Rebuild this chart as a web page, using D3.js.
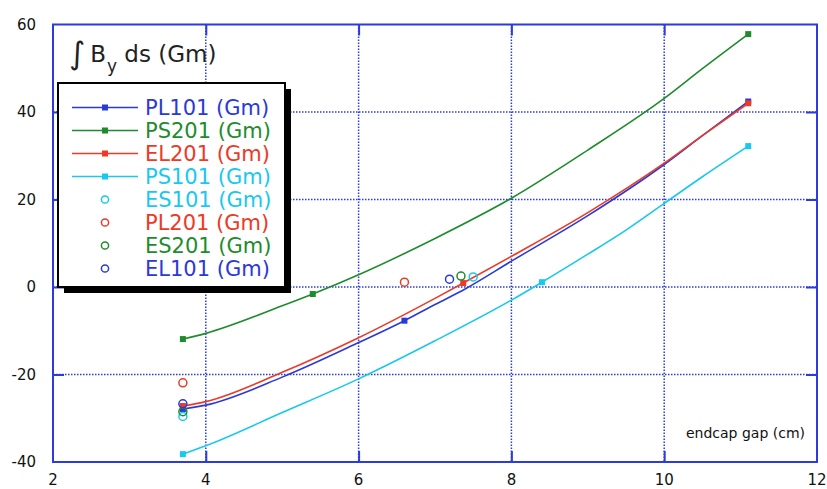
<!DOCTYPE html>
<html>
<head>
<meta charset="utf-8">
<script src="https://cdn.jsdelivr.net/npm/d3@7"></script>
<style>
  html, body { margin: 0; padding: 0; background: #fff; }
  svg { display: block; }
  text { font-family: "DejaVu Sans", Verdana, sans-serif; }
</style>
</head>
<body>
<svg id="chart" width="827" height="489"></svg>
<script>
// ---------- data ----------
const xTicks = [2, 4, 6, 8, 10, 12];
const yTicks = [-40, -20, 0, 20, 40, 60];
const xGrid = [4, 6, 8, 10];
const yGrid = [-20, 0, 20, 40];

const seriesNames = ["PL101 (Gm)", "PS201 (Gm)", "EL201 (Gm)", "PS101 (Gm)"];
const seriesColors = ["#2a3ad8", "#1e8c2c", "#ec3a26", "#18c8f0"];

// curve samples (x = endcap gap cm, y = integral By ds, Gm)
const pl101X = [3.7, 4, 5, 6, 6.6, 7, 7.4, 8, 9, 10, 10.5, 11.1];
const pl101Y = [-27.9, -27.0, -20.6, -12.7, -7.7, -4.0, -0.4, 5.9, 16.3, 28.0, 34.6, 42.4];
const pl101MarkX = [3.7, 6.6, 11.1];

const ps201X = [3.7, 4, 5, 5.4, 6, 7, 8, 9, 10, 10.5, 11.1];
const ps201Y = [-11.9, -10.6, -4.3, -1.6, 2.8, 11.1, 20.3, 31.3, 43.1, 49.9, 57.8];
const ps201MarkX = [3.7, 5.4, 11.1];

const el201X = [3.7, 4, 5, 6, 7, 7.37, 8, 9, 10, 10.5, 11.1];
const el201Y = [-27.2, -26.2, -19.5, -11.6, -2.6, 0.9, 7.0, 17.0, 28.3, 34.6, 42.0];
const el201MarkX = [3.7, 7.37, 11.1];

const ps101X = [3.7, 4, 5, 6, 7, 8, 8.4, 9, 9.5, 10, 10.5, 11.1];
const ps101Y = [-38.2, -36.3, -28.7, -21.0, -12.3, -3.0, 1.1, 7.5, 13.0, 19.1, 25.2, 32.2];
const ps101MarkX = [3.7, 8.4, 11.1];

// open-circle point series
const pointNames = ["ES101 (Gm)", "PL201 (Gm)", "ES201 (Gm)", "EL101 (Gm)"];
const pointColors = ["#18c8f0", "#ec3a26", "#1e8c2c", "#2a3ad8"];
const es101X = [3.7, 7.5];   const es101Y = [-29.6, 2.3];
const pl201X = [3.7, 6.6];   const pl201Y = [-21.9, 1.1];
const es201X = [3.7, 7.34];  const es201Y = [-28.5, 2.5];
const el101X = [3.7, 7.19];  const el101Y = [-26.7, 1.8];

// ---------- build ----------
const lineSeries = [
  {x: pl101X, y: pl101Y, m: pl101MarkX},
  {x: ps201X, y: ps201Y, m: ps201MarkX},
  {x: el201X, y: el201Y, m: el201MarkX},
  {x: ps101X, y: ps101Y, m: ps101MarkX}
].map((s, i) => ({
  name: seriesNames[i], color: seriesColors[i],
  pts: s.x.map((v, j) => ({x: v, y: s.y[j]})),
  marks: s.m.map(mx => ({x: mx, y: s.y[s.x.indexOf(mx)]}))
}));
const pointSeries = [
  {x: es101X, y: es101Y}, {x: pl201X, y: pl201Y},
  {x: es201X, y: es201Y}, {x: el101X, y: el101Y}
].map((s, i) => ({
  name: pointNames[i], color: pointColors[i],
  pts: s.x.map((v, j) => ({x: v, y: s.y[j]}))
}));

const frameColor = "#2b3be0";
const pL = 53, pR = 817, pT = 24.5, pB = 462;
const x = d3.scaleLinear().domain([2, 12]).range([pL, pR]);
const y = d3.scaleLinear().domain([-40, 60]).range([pB, pT]);

const svg = d3.select("#chart");

// grid (dotted)
const grid = svg.append("g");
grid.selectAll("line.vx").data(xGrid).join("line")
  .attr("x1", d => x(d)).attr("x2", d => x(d))
  .attr("y1", pT).attr("y2", pB)
  .attr("stroke", frameColor).attr("stroke-width", 1.5)
  .attr("stroke-dasharray", "1.5,1.5");
grid.selectAll("line.hy").data(yGrid).join("line")
  .attr("x1", pL).attr("x2", pR)
  .attr("y1", d => y(d)).attr("y2", d => y(d))
  .attr("stroke", frameColor).attr("stroke-width", 1.5)
  .attr("stroke-dasharray", "1.5,1.5");

// inward ticks via d3 axes
const tickLen = 11;
function styleAxis(g) {
  g.select(".domain").remove();
  g.selectAll(".tick line").attr("stroke", frameColor).attr("stroke-width", 2);
  g.selectAll(".tick text").remove();
}
svg.append("g").attr("transform", `translate(0,${pB})`)
  .call(d3.axisBottom(x).tickValues(xGrid).tickSize(-tickLen)).call(styleAxis);
svg.append("g").attr("transform", `translate(0,${pT})`)
  .call(d3.axisTop(x).tickValues(xGrid).tickSize(-tickLen)).call(styleAxis);
svg.append("g").attr("transform", `translate(${pL},0)`)
  .call(d3.axisLeft(y).tickValues(yGrid).tickSize(-tickLen)).call(styleAxis);
svg.append("g").attr("transform", `translate(${pR},0)`)
  .call(d3.axisRight(y).tickValues(yGrid).tickSize(-tickLen)).call(styleAxis);

// frame
svg.append("rect").attr("x", pL).attr("y", pT)
  .attr("width", pR - pL).attr("height", pB - pT)
  .attr("fill", "none").attr("stroke", frameColor).attr("stroke-width", 2);

// tick labels
svg.append("g").selectAll("text").data(xTicks).join("text")
  .attr("x", d => x(d)).attr("y", 485)
  .attr("text-anchor", "middle").attr("font-size", 15).attr("fill", "#111")
  .text(d => d);
svg.append("g").selectAll("text").data(yTicks).join("text")
  .attr("x", 36).attr("y", d => y(d)).attr("dy", "0.35em")
  .attr("text-anchor", "end").attr("font-size", 15).attr("fill", "#111")
  .text(d => d);

// axis label
svg.append("text").attr("x", 805).attr("y", 438)
  .attr("text-anchor", "end").attr("font-size", 14).attr("fill", "#111")
  .text("endcap gap (cm)");

// lines
const lineGen = d3.line().x(d => x(d.x)).y(d => y(d.y)).curve(d3.curveMonotoneX);
const ms = 6;
lineSeries.forEach(s => {
  svg.append("path").datum(s.pts).attr("d", lineGen)
    .attr("fill", "none").attr("stroke", s.color).attr("stroke-width", 1.6);
  svg.append("g").selectAll("rect").data(s.marks).join("rect")
    .attr("x", d => x(d.x) - ms / 2).attr("y", d => y(d.y) - ms / 2)
    .attr("width", ms).attr("height", ms).attr("fill", s.color);
});

// open circles
pointSeries.forEach(s => {
  svg.append("g").selectAll("circle").data(s.pts).join("circle")
    .attr("cx", d => x(d.x)).attr("cy", d => y(d.y)).attr("r", 4)
    .attr("fill", "none").attr("stroke", s.color).attr("stroke-width", 1.5);
});

// title
const title = svg.append("text").attr("x", 69).attr("y", 62)
  .attr("font-size", 23).attr("fill", "#222");
title.append("tspan").attr("font-size", 31).attr("dy", 2).text("∫");
title.append("tspan").attr("dy", -2).attr("dx", 5).text("B");
title.append("tspan").attr("font-size", 17).attr("dy", 10).attr("dx", 1).text("y");
title.append("tspan").attr("dy", -10).text(" ds (Gm)");

// legend
const lg = svg.append("g");
const lx = 58, ly = 83, lw = 227, lh = 204, sh = 6;
lg.append("rect").attr("x", lx + sh).attr("y", ly + sh).attr("width", lw).attr("height", lh)
  .attr("fill", "#000");
lg.append("rect").attr("x", lx).attr("y", ly).attr("width", lw).attr("height", lh)
  .attr("fill", "#fff").attr("stroke", "#000").attr("stroke-width", 2);
const rowY = i => 107.5 + i * 23;
const legendItems = lineSeries.map(s => ({name: s.name, color: s.color, type: "line"}))
  .concat(pointSeries.map(s => ({name: s.name, color: s.color, type: "point"})));
legendItems.forEach((d, i) => {
  const cy = rowY(i);
  if (d.type === "line") {
    lg.append("line").attr("x1", 72).attr("x2", 138).attr("y1", cy).attr("y2", cy)
      .attr("stroke", d.color).attr("stroke-width", 1.6);
    lg.append("rect").attr("x", 105 - ms / 2).attr("y", cy - ms / 2)
      .attr("width", ms).attr("height", ms).attr("fill", d.color);
  } else {
    lg.append("circle").attr("cx", 105).attr("cy", cy).attr("r", 3.6)
      .attr("fill", "none").attr("stroke", d.color).attr("stroke-width", 1.5);
  }
  lg.append("text").attr("x", 145).attr("y", cy).attr("dy", "0.36em")
    .attr("font-size", 21).attr("fill", d.color).text(d.name);
});
</script>
</body>
</html>
